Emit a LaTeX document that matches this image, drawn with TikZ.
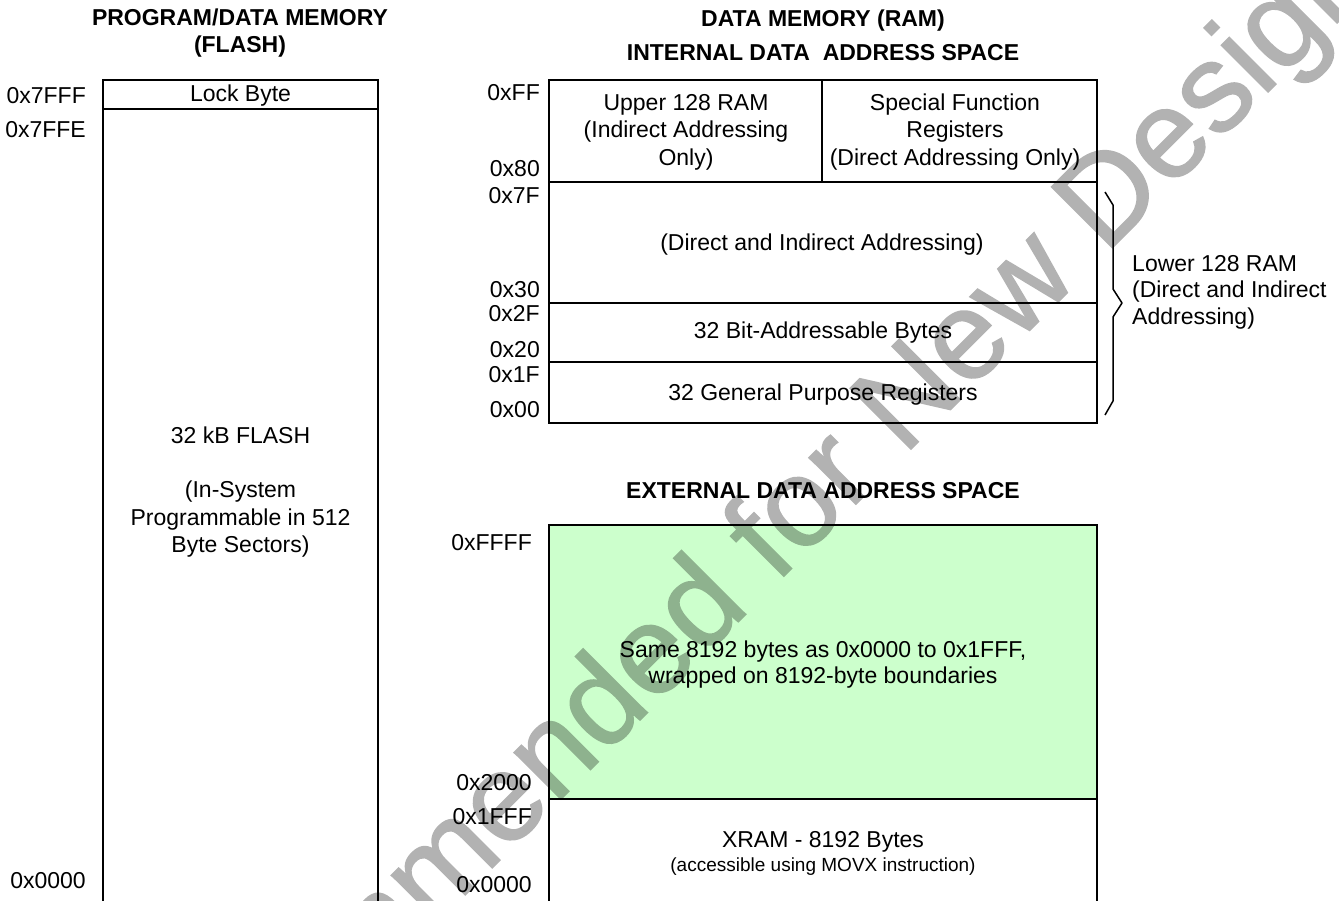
\documentclass[tikz,border=0pt]{standalone}
\usepackage{fontspec}
\setmainfont{Liberation Sans}
\newfontfamily\wmfont{Liberation Sans}[FakeBold=1.2]
\begin{document}
\begin{tikzpicture}[x=1pt,y=-1pt,
  lbl/.style={font=\fontsize{23}{27}\selectfont, inner sep=0pt, anchor=base east},
  txt/.style={font=\fontsize{23}{27}\selectfont, inner sep=0pt, anchor=base},
  lft/.style={font=\fontsize{23}{27}\selectfont, inner sep=0pt, anchor=base west},
  ttl/.style={font=\fontsize{23}{27}\selectfont\bfseries, inner sep=0pt, anchor=base},
  small/.style={font=\fontsize{19}{23}\selectfont, inner sep=0pt, anchor=base},
  box/.style={line width=2pt},
  wm/.style={font=\wmfont\fontsize{125}{150}\selectfont, text=black, inner sep=0pt}
]
\useasboundingbox (0,0) rectangle (1339,901);
\clip (0,0) rectangle (1339,901);
\fill[white] (0,0) rectangle (1339,901);

% ---------- FLASH ----------
\node[ttl] (t1a) at (240,26) {PROGRAM/DATA MEMORY};
\node[ttl] (t1b) at (240,53) {(FLASH)};
\draw[box] (103,920) -- (103,80) -- (378,80) -- (378,920);
\draw[box] (103,109) -- (378,109);
\node[txt] (lock) at (240.5,102) {Lock Byte};
\node[lbl] (f7fff) at (86,104) {0x7FFF};
\node[lbl] (f7ffe) at (86,138) {0x7FFE};
\node[lbl] (f0000) at (86,888) {0x0000};
\node[txt] (fl1) at (240.5,443) {32 kB FLASH};
\node[txt] (fl2) at (240.5,497) {(In-System};
\node[txt] (fl3) at (240.5,525) {Programmable in 512};
\node[txt] (fl4) at (240.5,552) {Byte Sectors)};

% ---------- INTERNAL RAM ----------
\node[ttl] (t2a) at (823,27) {DATA MEMORY (RAM)};
\node[ttl] (t2b) at (823,61) {INTERNAL DATA~ ADDRESS SPACE};
\draw[box] (549,80) rectangle (1097,423);
\draw[box] (822,80) -- (822,182);
\draw[box] (549,182) -- (1097,182);
\draw[box] (549,303) -- (1097,303);
\draw[box] (549,362) -- (1097,362);
\node[txt] (u1) at (686,111) {Upper 128 RAM};
\node[txt] (u2) at (686,138) {(Indirect Addressing};
\node[txt] (u3) at (686,166) {Only)};
\node[txt] (s1) at (955,111) {Special Function};
\node[txt] (s2) at (955,138) {Registers};
\node[txt] (s3) at (955,166) {(Direct Addressing Only)};
\node[txt] (di) at (822,251) {(Direct and Indirect Addressing)};
\node[txt] (ba) at (823,339) {32 Bit-Addressable Bytes};
\node[txt] (gp) at (823,400) {32 General Purpose Registers};
\node[lbl] (iff) at (540,101) {0xFF};
\node[lbl] (i80) at (540,177) {0x80};
\node[lbl] (i7f) at (540,204) {0x7F};
\node[lbl] (i30) at (540,298) {0x30};
\node[lbl] (i2f) at (540,322) {0x2F};
\node[lbl] (i20) at (540,358) {0x20};
\node[lbl] (i1f) at (540,382) {0x1F};
\node[lbl] (i00) at (540,417) {0x00};
% brace
\draw[line width=1.5pt, line join=round] (1105,192) -- (1113,205) -- (1113,289) -- (1122,303)
  -- (1113,317) -- (1113,401) -- (1105,415);
\node[lft] (lr1) at (1132,272) {Lower 128 RAM};
\node[lft] (lr2) at (1132,298) {(Direct and Indirect};
\node[lft] (lr3) at (1132,325) {Addressing)};

% ---------- EXTERNAL ----------
\node[ttl] (t3) at (823,498) {EXTERNAL DATA ADDRESS SPACE};
\fill[fill={rgb,255:red,204;green,255;blue,204}] (549,525) rectangle (1097,799);
\draw[box] (549,920) -- (549,525) -- (1097,525) -- (1097,920);
\draw[box] (549,799) -- (1097,799);
\node[txt] (sm1) at (823,657) {Same 8192 bytes as 0x0000 to 0x1FFF,};
\node[txt] (sm2) at (823,683) {wrapped on 8192-byte boundaries};
\node[txt] (xr1) at (823,847) {XRAM - 8192 Bytes};
\node[small] (xr2) at (823,871) {(accessible using MOVX instruction)};
\node[lbl] (effff) at (532,550) {0xFFFF};
\node[lbl] (e2000) at (532,790) {0x2000};
\node[lbl] (e1fff) at (532,824) {0x1FFF};
\node[lbl] (e0000) at (532,892) {0x0000};

% ---------- watermark ----------
\begin{scope}[transparency group, opacity=0.3]
\node[wm, anchor=base west, rotate=45] (wmark) at (-10,1370) {Not Recommended for New Designs};
\end{scope}
\end{tikzpicture}
\end{document}
